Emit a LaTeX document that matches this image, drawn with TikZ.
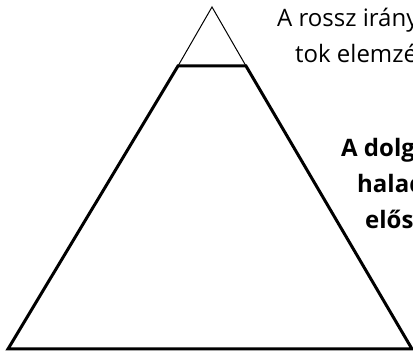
\documentclass[tikz,border=0pt]{standalone}
\usepackage{fontspec}
\setmainfont{Open Sans}
\usetikzlibrary{positioning}
\tikzset{
  apexline/.style={line width=1pt, line join=miter},
  baseline/.style={line width=3pt, line join=miter},
  note/.style={anchor=base west, inner sep=0pt, font=\fontsize{24}{28}\selectfont},
  boldnote/.style={note, font=\fontsize{24}{28}\selectfont\bfseries},
}
\begin{document}
\begin{tikzpicture}[x=1pt,y=-1pt]
    \useasboundingbox (0,0) rectangle (413,352);
    \clip (0,0) rectangle (413,352);
    \coordinate (apex) at (212,7);
    \coordinate (cutl) at (178,66);
    \coordinate (cutr) at (246,66);
    \coordinate (footl) at (8,349);
    \coordinate (footr) at (412,349);
    \draw[apexline] (cutl) -- (apex) -- (cutr);
    \draw[baseline] (cutl) -- (cutr) -- (footr) -- (footl) -- cycle;
    \node[note] (rossz) at (277,27) {A rossz irány};
    \node[note] (elemz) at (295,63) {tok elemzé};
    \node[boldnote] (dolg) at (341,157) {A dolg};
    \node[boldnote] (halad) at (357,193) {halad};
    \node[boldnote] (elos) at (365,229) {elős};
\end{tikzpicture}
\end{document}
